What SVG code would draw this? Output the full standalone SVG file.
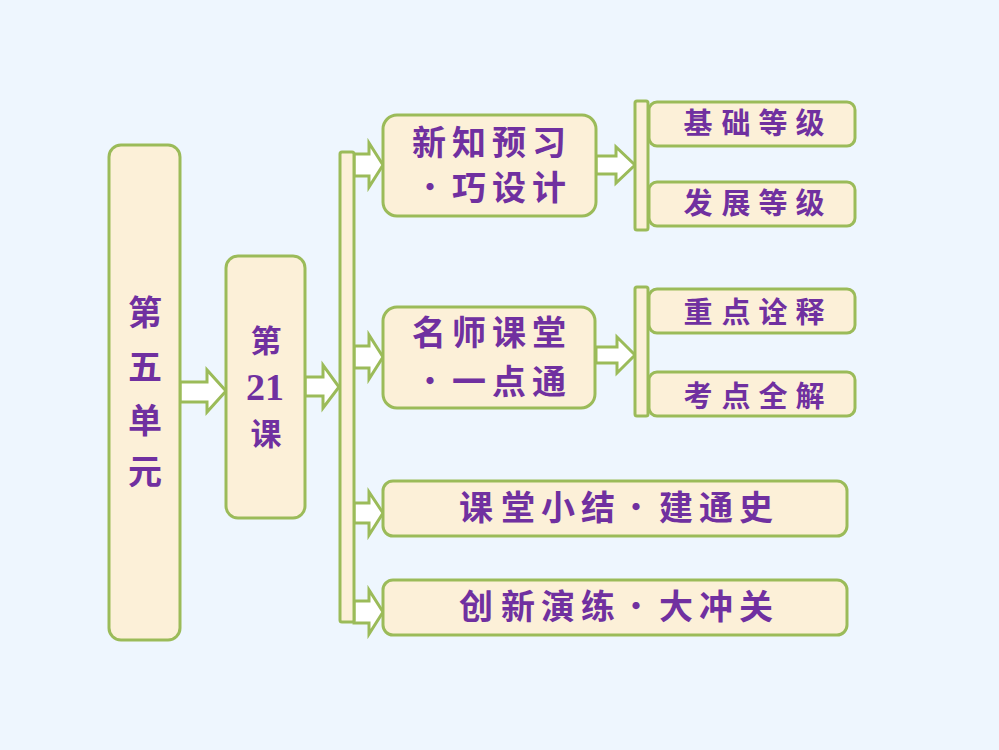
<svg xmlns="http://www.w3.org/2000/svg" width="999" height="750" viewBox="0 0 999 750">
<style>
.box{fill:#FCF0D8;stroke:#9BBB59;stroke-width:3}
.bar{fill:#FCF0D8;stroke:#9BBB59;stroke-width:3}
.arr{fill:#FFFFFF;stroke:#9BBB59;stroke-width:3;stroke-linejoin:miter}
.t{font-family:"Noto Sans CJK SC","Noto Sans CJK TC",sans-serif;fill:#7030A0;font-weight:bold;text-anchor:middle}
.dot{font-weight:normal}
.big{font-size:34px}
.mid{font-size:31px}
.sm{font-size:29px}
.num{font-family:"Liberation Serif",serif;font-weight:bold;font-size:38px;fill:#7030A0;text-anchor:middle}
</style>
<rect width="999" height="750" fill="#EEF6FE"/>
<g id="connectors">
<path class="arr" d="M180,382 H207 V370 L226,391 L207,412 V402 H180 Z"/>
<path class="arr" d="M305,377 H323 V365 L339,387 L323,408 V396 H305 Z"/>
<path class="arr" d="M354,154 H369 V143 L383,165 L369,187 V176 H354 Z"/>
<path class="arr" d="M354,346 H369 V335 L383,357 L369,379 V368 H354 Z"/>
<path class="arr" d="M354,503 H369 V492 L383,513 L369,535 V523 H354 Z"/>
<path class="arr" d="M354,601 H369 V590 L383,612 L369,634 V623 H354 Z"/>
<path class="arr" d="M596,156 H616 V147 L635,165 L616,183 V174 H596 Z"/>
<path class="arr" d="M596,347 H617 V337 L635,355 L617,373 V363 H596 Z"/>
</g>
<g id="bar-main"><rect class="bar" x="340" y="152" width="14" height="470" rx="2"/></g>
<g id="bar-1"><rect class="bar" x="635" y="101" width="13" height="129" rx="2"/></g>
<g id="bar-2"><rect class="bar" x="635" y="287" width="13" height="129" rx="2"/></g>
<g id="unit">
<rect class="box" x="109" y="145" width="71" height="495" rx="12"/>
<text class="t big" x="145" y="325">第</text>
<text class="t big" x="145" y="379">五</text>
<text class="t big" x="145" y="433">单</text>
<text class="t big" x="145" y="484">元</text>
</g>
<g id="lesson">
<rect class="box" x="226" y="256" width="79" height="262" rx="12"/>
<text class="t mid" x="266" y="352">第</text>
<text class="num" x="265" y="400">21</text>
<text class="t mid" x="266" y="445">课</text>
</g>
<g id="xinzhi">
<rect class="box" x="383" y="115" width="213" height="101" rx="14"/>
<text class="t big" x="429 469 509 549" y="155">新知预习</text>
<text class="t big" y="200"><tspan class="dot" x="430">·</tspan><tspan x="469 509 549">巧设计</tspan></text>
</g>
<g id="jichu">
<rect class="box" x="649" y="102" width="206" height="44" rx="8"/>
<text class="t sm" x="698 736 773 810" y="134">基础等级</text>
</g>
<g id="fazhan">
<rect class="box" x="649" y="182" width="206" height="44" rx="8"/>
<text class="t sm" x="698 736 773 810" y="214">发展等级</text>
</g>
<g id="mingshi">
<rect class="box" x="383" y="307" width="212" height="101" rx="14"/>
<text class="t big" x="429 469 509 549" y="345">名师课堂</text>
<text class="t big" y="394"><tspan class="dot" x="430">·</tspan><tspan x="469 509 549">一点通</tspan></text>
</g>
<g id="zhongdian">
<rect class="box" x="649" y="289" width="206" height="44" rx="8"/>
<text class="t sm" x="698 736 773 810" y="323">重点诠释</text>
</g>
<g id="kaodian">
<rect class="box" x="649" y="372" width="206" height="44" rx="8"/>
<text class="t sm" x="698 736 773 810" y="407">考点全解</text>
</g>
<g id="ketang">
<rect class="box" x="383" y="481" width="464" height="55" rx="10"/>
<text class="t big" y="520"><tspan x="476 518 558 598">课堂小结</tspan><tspan class="dot" x="636">·</tspan><tspan x="676 716 756">建通史</tspan></text>
</g>
<g id="chuangxin">
<rect class="box" x="383" y="580" width="464" height="55" rx="10"/>
<text class="t big" y="619"><tspan x="476 518 558 598">创新演练</tspan><tspan class="dot" x="636">·</tspan><tspan x="676 716 756">大冲关</tspan></text>
</g>
</svg>
